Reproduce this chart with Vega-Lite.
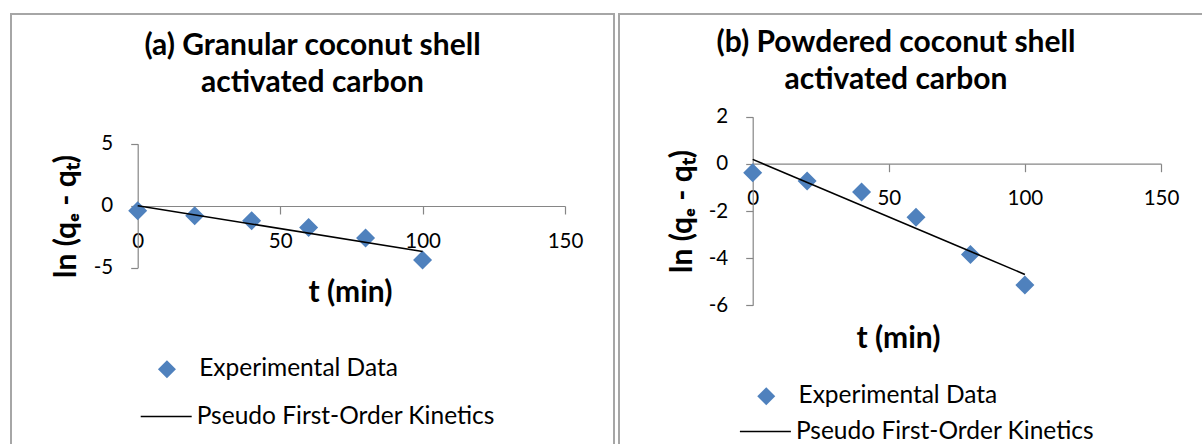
{
  "$schema": "https://vega.github.io/schema/vega-lite/v6.json",
  "padding": {"left": 10, "top": 13, "right": 0, "bottom": 0},
  "spacing": 5,
  "bounds": "flush",
  "background": "white",
  "resolve": {
    "scale": {"fill": "independent", "stroke": "independent", "x": "independent", "y": "independent"},
    "legend": {"fill": "independent", "stroke": "independent"}
  },
  "config": {
    "view": {"stroke": "#a6a6a6", "strokeWidth": 2},
    "font": "Lato",
    "axis": {
      "grid": false,
      "domainColor": "#868686",
      "tickColor": "#868686",
      "domainWidth": 1.2,
      "tickWidth": 1.2,
      "labelFont": "Lato",
      "labelFontSize": 20.5,
      "labelColor": "black",
      "labelFlush": false,
      "labelOverlap": false,
      "labelBound": false,
      "titleFont": "Lato",
      "titleFontWeight": "bold",
      "titleFontSize": 30,
      "titleColor": "black",
      "titleAlign": "center",
      "titleBaseline": "middle"
    },
    "axisX": {"tickSize": 8, "labelPadding": 17},
    "axisY": {"tickSize": 7, "labelPadding": 18, "titleAngle": 270},
    "legend": {
      "orient": "none",
      "padding": 0,
      "labelFont": "Lato",
      "labelFontSize": 24.5,
      "labelColor": "black",
      "labelLimit": 500,
      "title": null
    },
    "title": {"font": "Lato", "fontWeight": "bold", "fontSize": 30, "color": "black", "lineHeight": 37, "anchor": "middle", "frame": "group"}
  },
  "datasets": {
    "a_exp": [
      {"t": 0, "y": -0.4, "series": "Experimental Data"},
      {"t": 20, "y": -0.81, "series": "Experimental Data"},
      {"t": 40, "y": -1.21, "series": "Experimental Data"},
      {"t": 60, "y": -1.75, "series": "Experimental Data"},
      {"t": 80, "y": -2.6, "series": "Experimental Data"},
      {"t": 100, "y": -4.38, "series": "Experimental Data"}
    ],
    "a_fit": [
      {"t": 0, "y": 0.0, "model": "Pseudo First-Order Kinetics"},
      {"t": 100, "y": -3.69, "model": "Pseudo First-Order Kinetics"}
    ],
    "b_exp": [
      {"t": 0, "y": -0.38, "series": "Experimental Data"},
      {"t": 20, "y": -0.73, "series": "Experimental Data"},
      {"t": 40, "y": -1.19, "series": "Experimental Data"},
      {"t": 60, "y": -2.26, "series": "Experimental Data"},
      {"t": 80, "y": -3.84, "series": "Experimental Data"},
      {"t": 100, "y": -5.14, "series": "Experimental Data"}
    ],
    "b_fit": [
      {"t": 0, "y": 0.19, "model": "Pseudo First-Order Kinetics"},
      {"t": 100, "y": -4.69, "model": "Pseudo First-Order Kinetics"}
    ]
  },
  "hconcat": [
    {
      "width": 603,
      "height": 431,
      "title": {"text": ["(a) Granular coconut shell", "activated carbon"], "offset": -84},
      "layer": [
        {
          "data": {"name": "a_exp"},
          "mark": {"type": "point", "shape": "diamond", "filled": true, "size": 361, "opacity": 1, "strokeWidth": 0},
          "encoding": {
            "x": {"field": "t", "type": "quantitative",
                  "scale": {"domain": [0, 150], "range": [126.7, 554], "nice": false, "zero": false},
                  "axis": {"values": [0, 50, 100, 150], "labelExpr": "'' + datum.value", "offset": -239, "title": "t (min)", "titleX": 339, "titleY": 86}},
            "y": {"field": "y", "type": "quantitative",
                  "scale": {"domain": [-5, 5], "range": [253.7, 129.7], "nice": false, "zero": false},
                  "axis": {"values": [-5, 0, 5], "labelExpr": "'' + datum.value", "offset": -126.7, "title": "ln (qₑ - qₜ)", "titleX": -71, "titleY": 202}},
            "fill": {"field": "series", "type": "nominal", "scale": {"range": ["#4f81bd"]},
                     "legend": {"legendX": 143.7, "legendY": 343, "symbolType": "diamond", "symbolSize": 324, "symbolStrokeWidth": 0, "labelOffset": 20}}
          }
        },
        {
          "data": {"name": "a_fit"},
          "mark": {"type": "line", "strokeWidth": 1.6},
          "encoding": {
            "x": {"field": "t", "type": "quantitative"},
            "y": {"field": "y", "type": "quantitative"},
            "stroke": {"field": "model", "type": "nominal", "scale": {"range": ["black"]},
                       "legend": {"legendX": 128.7, "legendY": 376, "symbolType": "stroke", "symbolSize": 2601, "symbolStrokeWidth": 1.6, "labelOffset": 4}}
          }
        }
      ]
    },
    {
      "width": 584,
      "height": 431,
      "title": {"text": ["(b) Powdered coconut shell", "activated carbon"], "offset": -81, "dx": -15},
      "layer": [
        {
          "data": {"name": "b_exp"},
          "mark": {"type": "point", "shape": "diamond", "filled": true, "size": 361, "opacity": 1, "strokeWidth": 0},
          "encoding": {
            "x": {"field": "t", "type": "quantitative",
                  "scale": {"domain": [0, 150], "range": [133.7, 542], "nice": false, "zero": false},
                  "axis": {"values": [0, 50, 100, 150], "labelExpr": "'' + datum.value", "offset": -281.3, "title": "t (min)", "titleX": 279, "titleY": 175}},
            "y": {"field": "y", "type": "quantitative",
                  "scale": {"domain": [-6, 2], "range": [291.3, 102.7], "nice": false, "zero": false},
                  "axis": {"values": [-6, -4, -2, 0, 2], "labelExpr": "'' + datum.value", "offset": -133.7, "title": "ln (qₑ - qₜ)", "titleX": -70, "titleY": 197}},
            "fill": {"field": "series", "type": "nominal", "scale": {"range": ["#4f81bd"]},
                     "legend": {"legendX": 135, "legendY": 370, "symbolType": "diamond", "symbolSize": 324, "symbolStrokeWidth": 0, "labelOffset": 20}}
          }
        },
        {
          "data": {"name": "b_fit"},
          "mark": {"type": "line", "strokeWidth": 1.6},
          "encoding": {
            "x": {"field": "t", "type": "quantitative"},
            "y": {"field": "y", "type": "quantitative"},
            "stroke": {"field": "model", "type": "nominal", "scale": {"range": ["black"]},
                       "legend": {"legendX": 119.9, "legendY": 391, "symbolType": "stroke", "symbolSize": 2601, "symbolStrokeWidth": 1.6, "labelOffset": 4}}
          }
        }
      ]
    }
  ]
}
